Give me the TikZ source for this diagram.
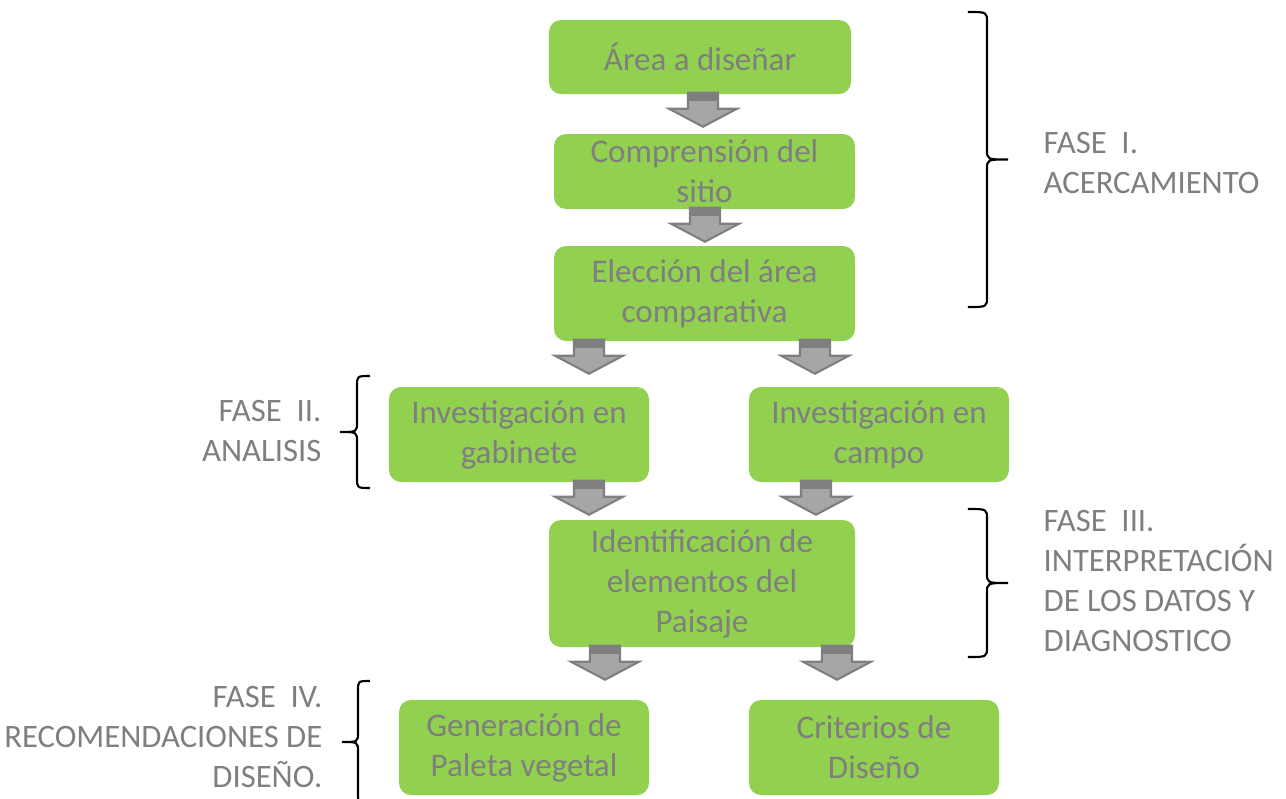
\documentclass[tikz,border=0pt]{standalone}
\usepackage{fontspec}
\setmainfont{Carlito}
\usepackage{tikz}
\usetikzlibrary{calc}

\definecolor{verde}{HTML}{92D050}
\definecolor{gristexto}{HTML}{7F7F7F}
\definecolor{grisflecha}{HTML}{A6A6A6}
\definecolor{grisborde}{HTML}{7F7F7F}

% block arrow hanging below a box: #1 = anchor, #2 = x shift
\newcommand{\flecha}[2]{%
  \begin{scope}[shift={($(#1)+(#2,0.02)$)}]
    \filldraw[fill=grisflecha, draw=grisborde, line width=0.6pt, line join=miter]
      (-0.15,0) -- (0.15,0) -- (0.15,-0.16) -- (0.34,-0.16) -- (0,-0.34)
      -- (-0.34,-0.16) -- (-0.15,-0.16) -- cycle;
    \fill[grisborde] (-0.15,0) rectangle (0.15,-0.08);
  \end{scope}}

% brace: #1 x of ends, #2 x of line, #3 x of tip, #4 y top, #5 y bottom
\newcommand{\llave}[5]{%
  \pgfmathsetmacro{\ymed}{(#4+#5)/2}
  \draw[line width=0.6pt] (#1,#4) .. controls (#2,#4) .. (#2,#4-0.1)
    -- (#2,\ymed+0.1) .. controls (#2,\ymed) .. (#3,\ymed)
    .. controls (#2,\ymed) .. (#2,\ymed-0.1)
    -- (#2,#5+0.1) .. controls (#2,#5) .. (#1,#5);}

\begin{document}
\begin{tikzpicture}[
    box/.style={fill=verde, rounded corners=0.12cm, align=center, text=gristexto,
      inner sep=0pt, font=\fontsize{9.4}{11.4}\selectfont},
    fase/.style={text=gristexto, inner sep=0pt, font=\fontsize{9.3}{11.4}\selectfont}
]
\useasboundingbox (0,0) rectangle (12.86,-7.99);

% Fase I
\node[box, minimum width=3.02cm, minimum height=0.74cm] (area) at (7.00,-0.57) {Área a diseñar};
\node[box, minimum width=3.01cm, minimum height=0.75cm] (comprension) at (7.045,-1.715) {Comprensión del\\sitio};
\node[box, minimum width=3.01cm, minimum height=0.95cm] (eleccion) at (7.045,-2.935) {Elección del área\\comparativa};

% Fase II
\node[box, minimum width=2.60cm, minimum height=0.95cm] (gabinete) at (5.19,-4.345) {Investigación en\\gabinete};
\node[box, minimum width=2.60cm, minimum height=0.95cm] (campo) at (8.79,-4.345) {Investigación en\\campo};

% Fase III
\node[box, minimum width=3.06cm, minimum height=1.27cm] (identificacion) at (7.02,-5.835) {Identificación de\\elementos del\\Paisaje};

% Fase IV
\node[box, minimum width=2.50cm, minimum height=0.95cm] (paleta) at (5.24,-7.475) {Generación de\\Paleta vegetal};
\node[box, minimum width=2.50cm, minimum height=0.95cm] (criterios) at (8.74,-7.475) {Criterios de\\Diseño};

% Flechas
\flecha{area.south}{0.03}
\flecha{comprension.south}{0.005}
\flecha{eleccion.south}{-1.155}
\flecha{eleccion.south}{1.105}
\flecha{gabinete.south}{0.70}
\flecha{campo.south}{-0.63}
\flecha{identificacion.south}{-0.97}
\flecha{identificacion.south}{1.35}

% Fases
\node[fase, anchor=west, align=left] (fase1) at (10.43,-1.63) {FASE~~I.\\ACERCAMIENTO};
\node[fase, anchor=east, align=right] (fase2) at (3.22,-4.31) {FASE~~II.\\ANALISIS};
\node[fase, anchor=west, align=left] (fase3) at (10.43,-5.81) {FASE~~III.\\INTERPRETACIÓN\\DE LOS DATOS Y\\DIAGNOSTICO};
\node[fase, anchor=east, align=right] (fase4) at (3.23,-7.37) {FASE~~IV.\\RECOMENDACIONES DE\\DISEÑO.};

% Llaves
\llave{9.68}{9.87}{10.08}{-0.12}{-3.07}
\llave{9.68}{9.87}{10.08}{-5.09}{-6.57}
\llave{3.70}{3.57}{3.40}{-3.76}{-4.88}
\llave{3.70}{3.58}{3.42}{-6.81}{-8.03}

\end{tikzpicture}
\end{document}
